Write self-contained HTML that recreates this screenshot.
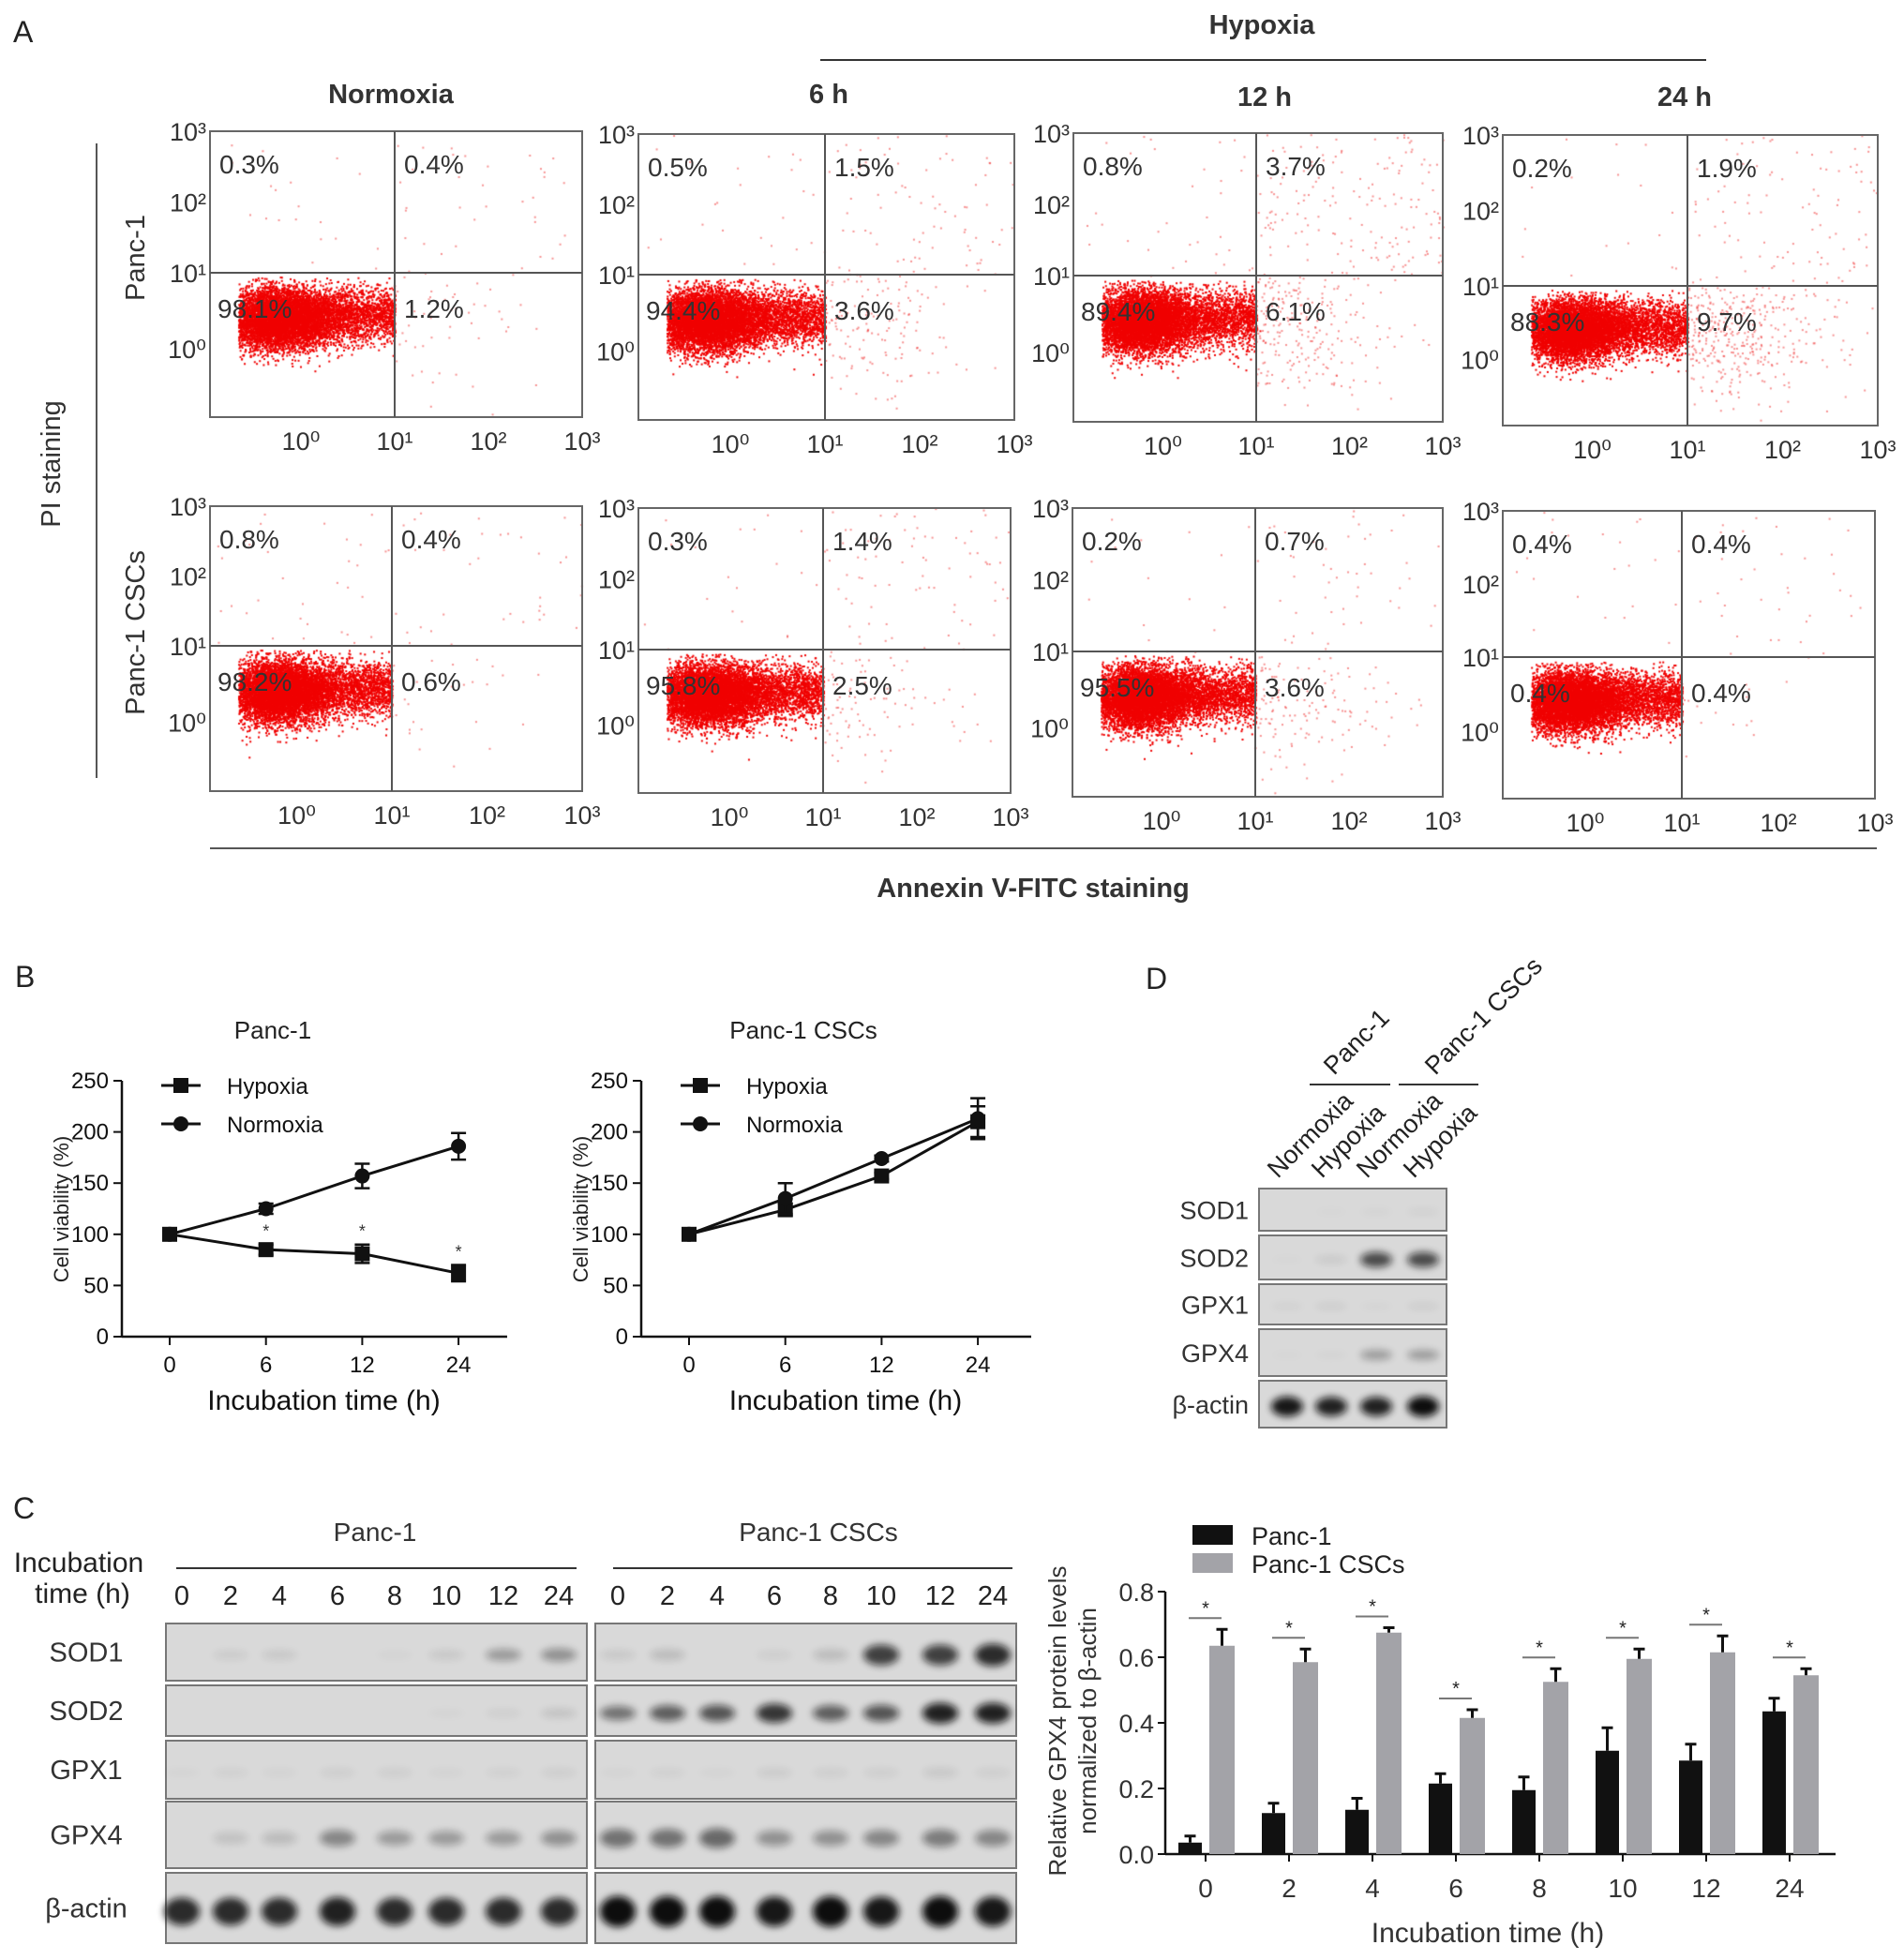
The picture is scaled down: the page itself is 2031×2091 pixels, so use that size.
<!DOCTYPE html>
<html><head><meta charset="utf-8">
<style>
html,body{margin:0;padding:0;background:#fff;}
#wrap{position:relative;width:2031px;height:2091px;overflow:hidden;font-family:"Liberation Sans",sans-serif;}
svg{position:absolute;left:0;top:0;}
canvas{position:absolute;left:0;top:0;}
</style></head>
<body>
<div id="wrap">
<canvas id="dots" width="2031" height="2091"></canvas>
<svg id="fig" width="2031" height="2091" viewBox="0 0 2031 2091" xmlns="http://www.w3.org/2000/svg">
<defs>
<filter id="blur" x="-50%" y="-100%" width="200%" height="300%"><feGaussianBlur stdDeviation="4"/></filter>
</defs>
<g font-family="Liberation Sans, sans-serif" fill="#222">
<text x="14" y="45" font-size="32">A</text>
<text x="1346" y="36" font-size="29" text-anchor="middle" font-weight="bold" fill="#333">Hypoxia</text>
<line x1="875" y1="64" x2="1820" y2="64" stroke="#333" stroke-width="2"/>
<text x="417" y="110" font-size="29" text-anchor="middle" font-weight="bold" fill="#333">Normoxia</text>
<text x="884" y="110" font-size="29" text-anchor="middle" font-weight="bold" fill="#333">6 h</text>
<text x="1349" y="113" font-size="29" text-anchor="middle" font-weight="bold" fill="#333">12 h</text>
<text x="1797" y="113" font-size="29" text-anchor="middle" font-weight="bold" fill="#333">24 h</text>
<line x1="103" y1="153" x2="103" y2="830" stroke="#555" stroke-width="2"/>
<text transform="translate(64,495) rotate(-90)" font-size="29" text-anchor="middle" fill="#333">PI staining</text>
<text transform="translate(154,275) rotate(-90)" font-size="29" text-anchor="middle" fill="#333">Panc-1</text>
<text transform="translate(154,675) rotate(-90)" font-size="29" text-anchor="middle" fill="#333">Panc-1 CSCs</text>
<line x1="224" y1="905" x2="2002" y2="905" stroke="#555" stroke-width="2"/>
<text x="1102" y="957" font-size="29" text-anchor="middle" font-weight="bold" fill="#333">Annexin V-FITC staining</text>
</g>
<g id="flow"></g>
<g id="panelB"></g>
<g id="panelC"></g>
<g id="panelD"></g>
<g id="bars"></g>
</svg>
</div>
<script>
// ---------- Flow cytometry (panel A) ----------
const flowBoxes=[[224,140,621,445,421,291],[681,143,1082,448,880,293],[1145,142,1539,450,1340,294],[1603,144,2003,454,1800,305],
[224,540,621,844,418,689],[681,542,1078,846,878,693],[1144,542,1539,850,1339,695],[1603,545,2000,852,1794,701]];
const flowUL=["0.3%","0.5%","0.8%","0.2%","0.8%","0.3%","0.2%","0.4%"];
const flowUR=["0.4%","1.5%","3.7%","1.9%","0.4%","1.4%","0.7%","0.4%"];
const flowLL=["98.1%","94.4%","89.4%","88.3%","98.2%","95.8%","95.5%","0.4%"];
const flowLR=["1.2%","3.6%","6.1%","9.7%","0.6%","2.5%","3.6%","0.4%"];
const flowYTicks=["10³","10²","10¹","10⁰"];
const flowXTicks=["10⁰","10¹","10²","10³"];
const NS='http://www.w3.org/2000/svg';
function mk(tag,attrs,parent){const e=document.createElementNS(NS,tag);for(const k in attrs)e.setAttribute(k,attrs[k]);parent.appendChild(e);return e;}
function txt(s,attrs,parent){const e=mk('text',attrs,parent);e.textContent=s;return e;}
const flow=document.getElementById('flow');
const ctx=document.getElementById('dots').getContext('2d');
let seed=12345;function rnd(){seed=(seed*16807)%2147483647;return seed/2147483647;}
function gauss(){return Math.sqrt(-2*Math.log(rnd()+1e-9))*Math.cos(2*Math.PI*rnd());}
flowBoxes.forEach((b,i)=>{
  const [l,t,r,bt,vx,hy]=b;
  const g=mk('g',{},flow);
  
  
  const decX=(vx-l)/2.0, decY=(bt-hy)/1.9;
  const ur=parseFloat(flowUR[i]),lr=parseFloat(flowLR[i]),ul=parseFloat(flowUL[i]);
  ctx.fillStyle='rgb(240,0,0)';
  for(let k=0;k<9000;k++){let x=l+(vx-l)*0.36+gauss()*decX*0.3,y=hy+decY*0.6+gauss()*decY*0.2;
    if(rnd()<0.35){x=l+(vx-l)*(0.25+rnd()*0.75);y=hy+decY*0.55+gauss()*decY*0.18;} if(x<l+30||x>vx+6||y<hy+4||y>bt-5)continue;ctx.fillRect(x,y,2,2);}
  ctx.fillStyle='rgba(240,40,40,0.5)';
  for(let k=0;k<lr*45;k++){const x=vx+Math.abs(gauss())*(r-vx)*0.35,y=hy+decY*0.6+gauss()*decY*0.5;if(x<r-3&&y<bt-3&&y>hy)ctx.fillRect(x,y,2,2);}
  for(let k=0;k<ur*40+20;k++){const x=vx+rnd()*(r-vx),y=t+rnd()*(hy-t);ctx.fillRect(x,y,2,2);}
  for(let k=0;k<ul*30+10;k++){const x=l+rnd()*(vx-l),y=t+rnd()*(hy-t);ctx.fillRect(x,y,2,2);}
  mk('rect',{x:l,y:t,width:r-l,height:bt-t,fill:'none',stroke:'#666','stroke-width':2},g);
  mk('line',{x1:vx,y1:t,x2:vx,y2:bt,stroke:'#555','stroke-width':2},g);
  mk('line',{x1:l,y1:hy,x2:r,y2:hy,stroke:'#555','stroke-width':2},g);
  const yPos=[t,hy-decY*1.0*1.05,hy,hy+decY];
  flowYTicks.forEach((s,j)=>{const e=txt(s,{x:l-4,y:(j==1?(t+hy)/2:yPos[j])+10,'font-size':27,'text-anchor':'end',fill:'#333','font-family':'Liberation Sans, sans-serif'},g);});
  const xd=(r-vx)/2;
  flowXTicks.forEach((s,j)=>{const e=txt(s,{x:vx+(j-1)*xd,y:bt+35,'font-size':27,'text-anchor':'middle',fill:'#333','font-family':'Liberation Sans, sans-serif'},g);});
  const fs={'font-size':28,fill:'#333','font-family':'Liberation Sans, sans-serif'};
  let e;
  e=txt(flowUL[i],Object.assign({x:l+10,y:t+45},fs),g);
  e=txt(flowUR[i],Object.assign({x:vx+10,y:t+45},fs),g);
  e=txt(flowLL[i],Object.assign({x:l+8,y:hy+48},fs),g);
  e=txt(flowLR[i],Object.assign({x:vx+10,y:hy+48},fs),g);
});

// ---------- Panel B line charts ----------
const timeCats=["0","6","12","24"];
const yTicksB=[0,50,100,150,200,250];
const p1Hyp=[100,85,81,62], p1HypErr=[0,5,9,8];
const p1Nor=[100,125,157,186], p1NorErr=[0,5,12,13];
const p2Hyp=[100,124,157,210], p2HypErr=[0,6,3,15];
const p2Nor=[100,135,174,213], p2NorErr=[0,15,3,20];
const starsP1=[false,true,true,true];
const B=document.getElementById('panelB');
const tb=txt('B',{x:16,y:1053,'font-size':32,fill:'#222','font-family':'Liberation Sans, sans-serif'},B);

function lineChart(ox,xr,title,titleX,series,stars,name){
  const g=mk('g',{'font-family':'Liberation Sans, sans-serif'},B);
  
  const y0=1426,y1=1153;const ys=v=>y0-(v/250)*(y0-y1);
  const xs=i=>ox+51+i*102.7;
  mk('line',{x1:ox,y1:y1,x2:ox,y2:y0,stroke:'#111','stroke-width':2.5},g);
  mk('line',{x1:ox,y1:y0,x2:xr,y2:y0,stroke:'#111','stroke-width':2.5},g);
  yTicksB.forEach(v=>{mk('line',{x1:ox-9,y1:ys(v),x2:ox,y2:ys(v),stroke:'#111','stroke-width':2},g);
    const e=txt(String(v),{x:ox-14,y:ys(v)+8,'font-size':24,'text-anchor':'end',fill:'#111'},g);});
  timeCats.forEach((c,i)=>{mk('line',{x1:xs(i),y1:y0,x2:xs(i),y2:y0+9,stroke:'#111','stroke-width':2},g);
    const e=txt(c,{x:xs(i),y:y0+38,'font-size':24,'text-anchor':'middle',fill:'#111'},g);});
  let e=txt('Incubation time (h)',{x:(ox+xr)/2+10,y:1504,'font-size':30,'text-anchor':'middle',fill:'#111'},g);
  e=txt('Cell viability (%)',{transform:`translate(${ox-57},${1290}) rotate(-90)`,'font-size':22,'text-anchor':'middle',fill:'#222'},g);
  e=txt(title,{x:titleX,y:1108,'font-size':26,'text-anchor':'middle',fill:'#222'},g);
  series.forEach((s,si)=>{
    const pts=s.vals.map((v,i)=>xs(i)+','+ys(v)).join(' ');
    const pl=mk('polyline',{points:pts,fill:'none',stroke:'#111','stroke-width':3},g);
    
    s.vals.forEach((v,i)=>{
      const er=s.err[i];
      if(er>0){mk('line',{x1:xs(i),y1:ys(v+er),x2:xs(i),y2:ys(v-er),stroke:'#111','stroke-width':2.5},g);
        mk('line',{x1:xs(i)-8,y1:ys(v+er),x2:xs(i)+8,y2:ys(v+er),stroke:'#111','stroke-width':2.5},g);
        mk('line',{x1:xs(i)-8,y1:ys(v-er),x2:xs(i)+8,y2:ys(v-er),stroke:'#111','stroke-width':2.5},g);}
      let m;
      if(s.marker==='sq')m=mk('rect',{x:xs(i)-8,y:ys(v)-8,width:16,height:16,fill:'#111'},g);
      else m=mk('circle',{cx:xs(i),cy:ys(v),r:8,fill:'#111'},g);
      
      if(stars&&si===0&&stars[i]){const st=txt('*',{x:xs(i),y:ys(v+s.err[i])-8,'font-size':18,'text-anchor':'middle',fill:'#333'},g);}
    });
  });
  const lx=ox+28;
  [['Hypoxia','sq',1158],['Normoxia','ci',1199]].forEach(([lab,mt,ly])=>{
    const lg=mk('g',{},g);
    mk('line',{x1:lx+14,y1:ly,x2:lx+56,y2:ly,stroke:'#111','stroke-width':3},lg);
    if(mt==='sq')mk('rect',{x:lx+27,y:ly-8,width:16,height:16,fill:'#111'},lg);else mk('circle',{cx:lx+35,cy:ly,r:8,fill:'#111'},lg);
    txt(lab,{x:lx+84,y:ly+9,'font-size':24,fill:'#111'},lg);
  });
}
lineChart(130,541,'Panc-1',291,[{name:'hypoxia',vals:p1Hyp,err:p1HypErr,marker:'sq'},{name:'normoxia',vals:p1Nor,err:p1NorErr,marker:'ci'}],starsP1,'chart-panc1-viability');
lineChart(684,1100,'Panc-1 CSCs',857,[{name:'hypoxia',vals:p2Hyp,err:p2HypErr,marker:'sq'},{name:'normoxia',vals:p2Nor,err:p2NorErr,marker:'ci'}],null,'chart-cscs-viability');

// ---------- Blots ----------
function blot(g,x0,x1,rows,lanes,bands,name){
  const bg=mk('g',{},g);
  rows.forEach((r,ri)=>{
    mk('rect',{x:x0,y:r[0],width:x1-x0,height:r[1]-r[0],fill:'#d9d9d9',stroke:'#777','stroke-width':2},bg);
    const cy=(r[0]+r[1])/2;const h=r[1]-r[0];const w=(x1-x0)/lanes.length;
    lanes.forEach((lx,li)=>{let a=bands[ri][li];if(a<=0)return;
      const op=a<0.3?a*0.55:a;
      const el=mk('ellipse',{cx:lx,cy:cy+h*0.05,rx:w*0.34,ry:h*(0.06+0.16*a),fill:'#111',opacity:op,filter:'url(#blur)'},bg);
      });
  });
}
const C=document.getElementById('panelC');
C.setAttribute('font-family','Liberation Sans, sans-serif');
const cLanes=["0","2","4","6","8","10","12","24"];
const lanesA=[194,246,298,360,421,476,537,596];
const lanesB=[659,712,765,826,886,940,1003,1059];
const blotRows=[[1732,1793],[1798,1852],[1857,1919],[1922,1993],[1998,2073]];
const blotNames=["SOD1","SOD2","GPX1","GPX4","β-actin"];
const bandsPanc=[[0,0.12,0.15,0,0.05,0.15,0.3,0.35],[0,0,0,0,0,0.05,0.1,0.2],[0.04,0.08,0.06,0.1,0.1,0.06,0.08,0.1],[0,0.2,0.25,0.4,0.3,0.3,0.3,0.35],[0.85,0.85,0.85,0.9,0.85,0.85,0.85,0.85]];
const bandsCsc=[[0.15,0.25,0,0.1,0.25,0.75,0.75,0.85],[0.5,0.6,0.65,0.8,0.6,0.65,0.9,0.9],[0.05,0.08,0.05,0.12,0.1,0.1,0.15,0.1],[0.5,0.5,0.55,0.35,0.35,0.4,0.45,0.4],[1,1,1,0.95,1,0.95,1,0.95]];
let e=txt('C',{x:14,y:1620,'font-size':32,fill:'#222'},C);
e=txt('Panc-1',{x:400,y:1644,'font-size':28,'text-anchor':'middle',fill:'#333'},C);
e=txt('Panc-1 CSCs',{x:873,y:1644,'font-size':28,'text-anchor':'middle',fill:'#333'},C);
mk('line',{x1:188,y1:1673,x2:615,y2:1673,stroke:'#333','stroke-width':2},C);
mk('line',{x1:654,y1:1673,x2:1080,y2:1673,stroke:'#333','stroke-width':2},C);
e=txt('Incubation',{x:84,y:1677,'font-size':30,'text-anchor':'middle',fill:'#222'},C);
e=txt('time (h)',{x:88,y:1710,'font-size':30,'text-anchor':'middle',fill:'#222'},C);
cLanes.forEach((c,i)=>{
  e=txt(c,{x:lanesA[i],y:1712,'font-size':29,'text-anchor':'middle',fill:'#222'},C);
  e=txt(c,{x:lanesB[i],y:1712,'font-size':29,'text-anchor':'middle',fill:'#222'},C);
});
blotNames.forEach((n,i)=>{e=txt(n,{x:92,y:(blotRows[i][0]+blotRows[i][1])/2+10,'font-size':29,'text-anchor':'middle',fill:'#333'},C);});
blot(C,177,626,blotRows,lanesA,bandsPanc,'blot-panc1');
blot(C,635,1084,blotRows,lanesB,bandsCsc,'blot-cscs');

// ---------- Panel D ----------
const D=document.getElementById('panelD');
D.setAttribute('font-family','Liberation Sans, sans-serif');
const dRows=[[1268,1313],[1318,1365],[1370,1413],[1418,1468],[1473,1523]];
const dLanes=[1373,1420,1468,1518];
const dLaneNames=["Normoxia","Hypoxia","Normoxia","Hypoxia"];
const dBands=[[0,0.03,0.05,0.08],[0.03,0.15,0.7,0.7],[0.08,0.12,0.05,0.12],[0.03,0.05,0.3,0.3],[0.95,0.9,0.9,1]];
e=txt('D',{x:1222,y:1055,'font-size':32,fill:'#222'},D);
blotNames.forEach((n,i)=>{e=txt(n,{x:1332,y:(dRows[i][0]+dRows[i][1])/2+10,'font-size':27,'text-anchor':'end',fill:'#333'},D);});
dLaneNames.forEach((n,i)=>{e=txt(n,{transform:`translate(${dLanes[i]-10},1258) rotate(-45)`,'font-size':27,fill:'#222'},D);});
mk('line',{x1:1397,y1:1157,x2:1483,y2:1157,stroke:'#333','stroke-width':2},D);
mk('line',{x1:1492,y1:1157,x2:1577,y2:1157,stroke:'#333','stroke-width':2},D);
e=txt('Panc-1',{transform:'translate(1423,1148) rotate(-45)','font-size':27,fill:'#222'},D);
e=txt('Panc-1 CSCs',{transform:'translate(1531,1148) rotate(-45)','font-size':27,fill:'#222'},D);
blot(D,1343,1543,dRows,dLanes,dBands,'blot-d');

// ---------- Bar chart (panel C right) ----------
const barCats=["0","2","4","6","8","10","12","24"];
const barPanc=[0.035,0.125,0.135,0.215,0.195,0.315,0.285,0.435];
const barPancErr=[0.02,0.03,0.035,0.03,0.04,0.07,0.05,0.04];
const barCsc=[0.635,0.585,0.675,0.415,0.525,0.595,0.615,0.545];
const barCscErr=[0.05,0.04,0.015,0.025,0.04,0.03,0.05,0.02];
const barYTicks=["0.0","0.2","0.4","0.6","0.8"];
const G=document.getElementById('bars');
G.setAttribute('font-family','Liberation Sans, sans-serif');
const bx0=1243,bx1=1958,by0=1978,by1=1698;
const bys=v=>by0-(v/0.8)*(by0-by1);
const bxs=i=>1286+i*89;
mk('line',{x1:bx0,y1:by1,x2:bx0,y2:by0,stroke:'#111','stroke-width':2.5},G);
mk('line',{x1:bx0,y1:by0,x2:bx1,y2:by0,stroke:'#111','stroke-width':2.5},G);
barYTicks.forEach(s=>{const v=parseFloat(s);mk('line',{x1:bx0-8,y1:bys(v),x2:bx0,y2:bys(v),stroke:'#111','stroke-width':2},G);
  e=txt(s,{x:bx0-12,y:bys(v)+10,'font-size':27,'text-anchor':'end',fill:'#333'},G);});
function errbar(x,v,er,col){mk('line',{x1:x,y1:bys(v),x2:x,y2:bys(v+er),stroke:col,'stroke-width':3},G);mk('line',{x1:x-6,y1:bys(v+er),x2:x+6,y2:bys(v+er),stroke:col,'stroke-width':3},G);}
barCats.forEach((c,i)=>{
  const cx=bxs(i);
  let r=mk('rect',{x:cx-29,y:bys(barPanc[i]),width:25,height:by0-bys(barPanc[i]),fill:'#111'},G);
  
  errbar(cx-16.5,barPanc[i],barPancErr[i],'#111');
  r=mk('rect',{x:cx+4,y:bys(barCsc[i]),width:27,height:by0-bys(barCsc[i]),fill:'#a3a3a8'},G);
  
  errbar(cx+17.5,barCsc[i],barCscErr[i],'#111');
  const sy=bys(barCsc[i]+barCscErr[i])-12;
  mk('line',{x1:cx-18,y1:sy,x2:cx+17,y2:sy,stroke:'#777','stroke-width':2},G);
  e=txt('*',{x:cx,y:sy-4,'font-size':20,'text-anchor':'middle',fill:'#222'},G);
  mk('line',{x1:cx,y1:by0,x2:cx,y2:by0+8,stroke:'#111','stroke-width':2},G);
  e=txt(c,{x:cx,y:2024,'font-size':28,'text-anchor':'middle',fill:'#333'},G);
});
e=txt('Incubation time (h)',{x:1587,y:2072,'font-size':30,'text-anchor':'middle',fill:'#333'},G);
e=txt('Relative GPX4 protein levels',{transform:'translate(1137,1836) rotate(-90)','font-size':26,'text-anchor':'middle',fill:'#333'},G);
e=txt('normalized to β-actin',{transform:'translate(1169,1836) rotate(-90)','font-size':26,'text-anchor':'middle',fill:'#333'},G);
const lg1=mk('g',{},G);
mk('rect',{x:1272,y:1627,width:43,height:21,fill:'#111'},lg1);txt('Panc-1',{x:1335,y:1648,'font-size':27,fill:'#222'},lg1);
const lg2=mk('g',{},G);
mk('rect',{x:1272,y:1657,width:43,height:21,fill:'#a3a3a8'},lg2);txt('Panc-1 CSCs',{x:1335,y:1678,'font-size':27,fill:'#222'},lg2);
</script>
</body></html>
